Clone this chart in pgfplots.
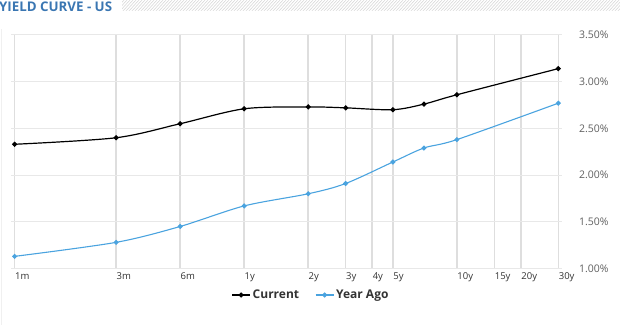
\documentclass[border=0pt]{standalone}
\usepackage{pgfplots}
\pgfplotsset{compat=1.18}
\usepackage{fontspec}
\setmainfont{Open Sans}
\definecolor{titleblue}{RGB}{58,118,178}
\definecolor{yablue}{RGB}{74,163,223}
\definecolor{gridv}{RGB}{222,222,222}
\definecolor{gridh}{RGB}{232,232,232}
\definecolor{lblgray}{RGB}{96,96,96}
\definecolor{txtdark}{RGB}{51,51,51}
\begin{document}
\begin{tikzpicture}
\useasboundingbox (0bp,0bp) rectangle (620bp,325bp);
\begin{scope}
\clip (122bp,314bp) rectangle (620bp,325bp);
\foreach \i in {0,3,...,520} { \draw[gray!35, line width=0.5bp] (122bp+\i bp-12bp,313bp) -- (122bp+\i bp,326bp); }
\end{scope}
\node[anchor=base west, inner sep=0, text=titleblue, font=\fontsize{13.3bp}{15bp}\selectfont\bfseries] at (-1bp,313bp) {YIELD CURVE - US};
\draw[gray!12, line width=1bp] (1.5bp,0bp) -- (1.5bp,296bp);
\begin{axis}[
  at={(11bp,56.5bp)}, anchor=south west, scale only axis,
  width=551bp, height=233.5bp,
  xmode=log, xmin=0.961, xmax=374.6, ymin=1, ymax=3.5,
  xtick={1,3,6,12,24,36,48,60,120,180,240,360},
  xticklabels={1m,3m,6m,1y,2y,3y,4y,5y,10y,15y,20y,30y},
  ytick={1,1.5,2,2.5,3,3.5},
  yticklabel={\pgfmathprintnumber[fixed,fixed zerofill,precision=2]{\tick}\%},
  /pgf/number format/assume math mode=true,
  yticklabel pos=right,
  xmajorgrids, ymajorgrids,
  x grid style={gridv, line width=1.5bp},
  y grid style={gridh, line width=1bp},
  extra y ticks={1}, extra y tick labels={},
  extra y tick style={grid=major, major grid style={gridv, line width=1.6bp}},
  major tick length=0pt, tick style={draw=none},
  axis line style={draw=none},
  xticklabel style={anchor=north west, xshift=-3bp, yshift=-1bp, font=\fontsize{9.5bp}{11bp}\selectfont, text=txtdark},
  yticklabel style={anchor=east, xshift=50bp, font=\fontsize{10.5bp}{12bp}\selectfont, text=lblgray},
  legend columns=2,
  legend style={at={(0.5445,-0.1135)}, anchor=center, draw=none, fill=none,
    font=\fontsize{12bp}{14bp}\selectfont\bfseries, text=txtdark,
    /tikz/every even column/.append style={column sep=14bp}},
  legend image code/.code={\draw[#1,mark repeat=2,mark phase=2] plot coordinates {(0bp,0bp) (9bp,0bp) (18bp,0bp)};},
]
\addplot[black, line width=1.2bp, smooth, tension=0.5, mark=*, mark size=1.9bp, mark options={solid}] coordinates {
(1,2.33) (3,2.40) (6,2.55) (12,2.71) (24,2.73) (36,2.72) (60,2.70) (84,2.76) (120,2.86) (360,3.14)};
\addlegendentry{Current}
\addplot[yablue, line width=1.1bp, smooth, tension=0.5, mark=*, mark size=1.9bp, mark options={solid}] coordinates {
(1,1.13) (3,1.28) (6,1.45) (12,1.67) (24,1.80) (36,1.91) (60,2.14) (84,2.29) (120,2.38) (360,2.77)};
\addlegendentry{Year Ago}
\end{axis}
\end{tikzpicture}
\end{document}
